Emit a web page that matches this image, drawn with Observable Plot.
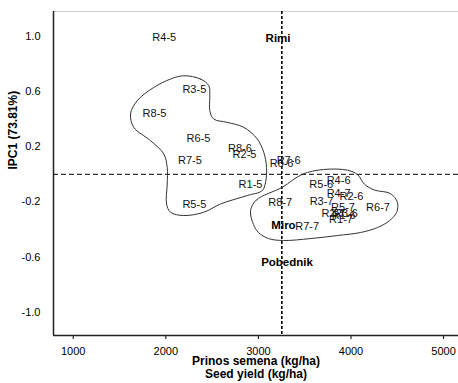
<!DOCTYPE html>
<html>
<head>
<meta charset="utf-8">
<script src="https://cdn.jsdelivr.net/npm/d3@7"></script>
<script src="https://cdn.jsdelivr.net/npm/@observablehq/plot@0.6"></script>
<style>
  html, body { margin: 0; padding: 0; background: #fff; }
  #chart svg { display: block; }
</style>
</head>
<body>
<div id="chart"></div>
<script>
// Tick values
const xTicks = [1000, 2000, 3000, 4000, 5000];
const yTicks = [-1.0, -0.6, -0.2, 0.2, 0.6, 1.0];

// Genotype labels, seed yield (kg/ha), IPC1 score
const names = ["R4-5", "Rimi", "R3-5", "R8-5", "R6-5", "R7-5", "R8-6", "R2-5", "R6-6", "R7-6",
  "R1-5", "R5-5", "R5-6", "R4-6", "R4-7", "R2-6", "R3-7", "R8-7", "R5-7", "R6-7",
  "R2-7", "R3-6", "R1-6", "R1-7", "Miro", "R7-7", "Pobednik"];
const seedYield = [1983, 3212, 2308, 1878, 2353, 2261, 2801, 2850, 3250, 3326,
  2915, 2308, 3679, 3866, 3866, 4005, 3682, 3236, 3914, 4292,
  3810, 3946, 3920, 3892, 3271, 3527, 3309];
const ipc1 = [0.99, 0.99, 0.614, 0.438, 0.257, 0.099, 0.191, 0.143, 0.081, 0.099,
  -0.075, -0.215, -0.075, -0.041, -0.142, -0.162, -0.196, -0.203, -0.239, -0.243,
  -0.283, -0.287, -0.30, -0.330, -0.372, -0.377, -0.638];
const checks = ["Rimi", "Miro", "Pobednik"];

// Mean reference lines
const meanYield = 3253;
const meanIpc = 0;

// Hand-drawn group outlines
const blob1X = [2194, 2375, 2464, 2475, 2475, 2518, 2663, 2842, 2987, 3058, 3088, 3077, 3041, 2879,
  2591, 2410, 2194, 2051, 2008, 2015, 2015, 1978, 1835, 1654, 1619, 1691, 1870, 2051];
const blob1Y = [0.715, 0.691, 0.643, 0.558, 0.462, 0.401, 0.377, 0.341, 0.257, 0.159, 0.051, -0.058, -0.118, -0.154,
  -0.215, -0.275, -0.299, -0.275, -0.215, -0.070, 0.051, 0.148, 0.244, 0.341, 0.438, 0.534, 0.630, 0.691];
const blob2X = [2915, 2980, 3257, 3474, 3703, 3962, 4070, 4146, 4254, 4427, 4502, 4492, 4416, 4286,
  4103, 3854, 3562, 3271, 3109, 3001, 2947];
const blob2Y = [-0.263, -0.185, -0.094, 0.0, 0.035, 0.03, -0.002, -0.072, -0.114, -0.140, -0.205, -0.277, -0.336, -0.386,
  -0.422, -0.444, -0.466, -0.480, -0.466, -0.422, -0.364];

const xDomain = [787, 5161];
const yDomain = [-1.169, 1.181];

const idx = d3.range(names.length);
const regular = idx.filter(i => !checks.includes(names[i]));
const boldIdx = idx.filter(i => checks.includes(names[i]));
const b1 = d3.range(blob1X.length).map(i => ({x: blob1X[i], y: blob1Y[i]}));
const b2 = d3.range(blob2X.length).map(i => ({x: blob2X[i], y: blob2Y[i]}));

const chart = Plot.plot({
  width: 458,
  height: 383,
  marginTop: 11,
  marginBottom: 48,
  marginLeft: 53,
  marginRight: 0,
  style: {fontFamily: "Liberation Sans, Arial, sans-serif", fontSize: "11px", background: "#fff", color: "#000"},
  x: {domain: xDomain, label: null},
  y: {domain: yDomain, label: null},
  marks: [
    Plot.axisX({ticks: xTicks, tickSize: 4, tickPadding: 8, tickFormat: d => String(d), label: null, fontSize: 11}),
    Plot.axisY({ticks: yTicks, tickSize: 0, tickPadding: 13, tickFormat: d => d.toFixed(1), label: null, fontSize: 11}),
    Plot.ruleY([yDomain[1]], {stroke: "#cfcfcf", strokeWidth: 1}),
    Plot.ruleX([xDomain[0]], {stroke: "#222", strokeWidth: 1.5}),
    Plot.ruleY([yDomain[0]], {stroke: "#222", strokeWidth: 1.5}),
    Plot.ruleY([meanIpc], {stroke: "#000", strokeWidth: 1, strokeDasharray: "5,3"}),
    Plot.ruleX([meanYield], {stroke: "#000", strokeWidth: 1.6, strokeDasharray: "3,2"}),
    Plot.line(b1, {x: "x", y: "y", curve: "catmull-rom-closed", stroke: "#333", strokeWidth: 1}),
    Plot.line(b2, {x: "x", y: "y", curve: "catmull-rom-closed", stroke: "#333", strokeWidth: 1}),
    Plot.text(regular, {x: i => seedYield[i], y: i => ipc1[i], text: i => names[i], fill: "#111", fontSize: 11}),
    Plot.text(boldIdx, {x: i => seedYield[i], y: i => ipc1[i], text: i => names[i], fill: "#000", fontSize: 11.5, fontWeight: "bold"}),
    Plot.text(["Prinos semena (kg/ha)"], {frameAnchor: "bottom", dy: 29, fontSize: 12, fontWeight: "bold"}),
    Plot.text(["Seed yield (kg/ha)"], {frameAnchor: "bottom", dy: 42, fontSize: 12, fontWeight: "bold"}),
    Plot.text(["IPC1 (73.81%)"], {frameAnchor: "left", dx: -40, dy: -4, rotate: -90, fontSize: 12, fontWeight: "bold"})
  ]
});
document.getElementById("chart").appendChild(chart);
</script>
</body>
</html>
